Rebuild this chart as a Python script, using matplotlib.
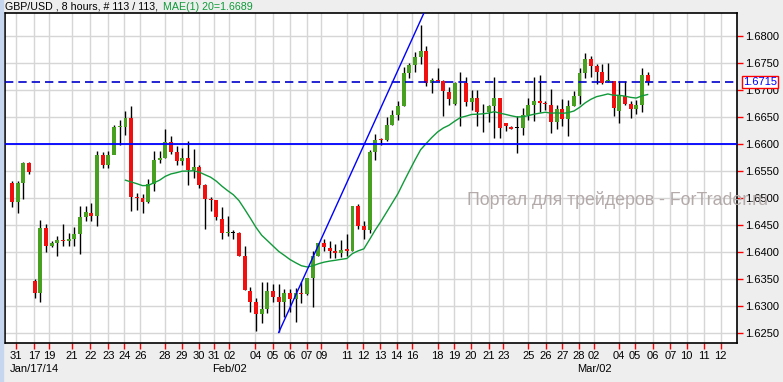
import numpy as np
import pandas as pd
import matplotlib
matplotlib.use('Agg')
import matplotlib.pyplot as plt
import matplotlib.transforms as mtransforms
from matplotlib.ticker import StrMethodFormatter

plt.rcParams['font.family'] = ['Liberation Sans', 'DejaVu Sans']

# GBP/USD 8h candles (113 bars)
opens = [1.6527, 1.6492, 1.6527, 1.6565, 1.6347, 1.6325, 1.6444, 1.6411, 1.6417, 1.6422,
         1.6420, 1.6424, 1.6433, 1.6465, 1.6473, 1.6467, 1.6580, 1.6562, 1.6580, 1.6631,
         1.6632, 1.6649, 1.6502, 1.6500, 1.6492, 1.6526, 1.6571, 1.6575, 1.6603, 1.6585,
         1.6568, 1.6575, 1.6551, 1.6557, 1.6524, 1.6499, 1.6496, 1.6462, 1.6435, 1.6436,
         1.6436, 1.6393, 1.6328, 1.6307, 1.6285, 1.6295, 1.6328, 1.6317, 1.6307, 1.6324,
         1.6313, 1.6325, 1.6322, 1.6351, 1.6393, 1.6416, 1.6408, 1.6402, 1.6399, 1.6405,
         1.6402, 1.6485, 1.6448, 1.6441, 1.6585, 1.6609, 1.6607, 1.6636, 1.6654, 1.6671,
         1.6731, 1.6746, 1.6762, 1.6772, 1.6713, 1.6719, 1.6716, 1.6697, 1.6675, 1.6713,
         1.6713, 1.6677, 1.6685, 1.6663, 1.6660, 1.6670, 1.6685, 1.6638, 1.6632, 1.6630,
         1.6630, 1.6654, 1.6673, 1.6680, 1.6675, 1.6673, 1.6640, 1.6665, 1.6647, 1.6671,
         1.6689, 1.6731, 1.6757, 1.6745, 1.6734, 1.6716, 1.6716, 1.6662, 1.6689, 1.6675,
         1.6665, 1.6673, 1.6728]
highs = [1.6532, 1.6532, 1.6567, 1.6566, 1.6350, 1.6459, 1.6451, 1.6420, 1.6430, 1.6451,
         1.6436, 1.6446, 1.6486, 1.6485, 1.6491, 1.6587, 1.6585, 1.6587, 1.6636, 1.6645,
         1.6662, 1.6670, 1.6510, 1.6507, 1.6536, 1.6587, 1.6587, 1.6627, 1.6614, 1.6596,
         1.6593, 1.6606, 1.6590, 1.6562, 1.6526, 1.6502, 1.6497, 1.6484, 1.6466, 1.6440,
         1.6437, 1.6411, 1.6336, 1.6314, 1.6345, 1.6345, 1.6341, 1.6341, 1.6331, 1.6331,
         1.6334, 1.6345, 1.6351, 1.6402, 1.6417, 1.6424, 1.6420, 1.6414, 1.6422, 1.6433,
         1.6486, 1.6488, 1.6457, 1.6588, 1.6619, 1.6611, 1.6650, 1.6663, 1.6679, 1.6742,
         1.6750, 1.6771, 1.6820, 1.6782, 1.6722, 1.6740, 1.6718, 1.6705, 1.6714, 1.6734,
         1.6725, 1.6700, 1.6700, 1.6675, 1.6673, 1.6725, 1.6686, 1.6639, 1.6633, 1.6651,
         1.6667, 1.6685, 1.6725, 1.6728, 1.6679, 1.6702, 1.6673, 1.6683, 1.6682, 1.6699,
         1.6740, 1.6768, 1.6763, 1.6748, 1.6748, 1.6750, 1.6717, 1.6716, 1.6716, 1.6679,
         1.6682, 1.6740, 1.6734]
lows = [1.6483, 1.6473, 1.6499, 1.6545, 1.6315, 1.6307, 1.6400, 1.6409, 1.6393, 1.6411,
        1.6411, 1.6411, 1.6397, 1.6457, 1.6457, 1.6448, 1.6555, 1.6555, 1.6598, 1.6599,
        1.6617, 1.6476, 1.6478, 1.6472, 1.6491, 1.6513, 1.6565, 1.6574, 1.6582, 1.6561,
        1.6562, 1.6525, 1.6537, 1.6518, 1.6442, 1.6476, 1.6459, 1.6425, 1.6430, 1.6424,
        1.6392, 1.6330, 1.6288, 1.6254, 1.6269, 1.6287, 1.6307, 1.6251, 1.6279, 1.6288,
        1.6271, 1.6306, 1.6321, 1.6298, 1.6392, 1.6402, 1.6388, 1.6388, 1.6390, 1.6392,
        1.6401, 1.6442, 1.6425, 1.6436, 1.6571, 1.6599, 1.6605, 1.6635, 1.6645, 1.6670,
        1.6722, 1.6734, 1.6748, 1.6708, 1.6695, 1.6716, 1.6652, 1.6673, 1.6673, 1.6634,
        1.6671, 1.6663, 1.6633, 1.6623, 1.6640, 1.6611, 1.6611, 1.6625, 1.6627, 1.6584,
        1.6617, 1.6644, 1.6642, 1.6660, 1.6663, 1.6620, 1.6627, 1.6633, 1.6614, 1.6670,
        1.6675, 1.6722, 1.6725, 1.6711, 1.6711, 1.6715, 1.6651, 1.6639, 1.6673, 1.6649,
        1.6656, 1.6660, 1.6710]
closes = [1.6492, 1.6527, 1.6565, 1.6548, 1.6325, 1.6444, 1.6411, 1.6417, 1.6422, 1.6420,
          1.6424, 1.6433, 1.6465, 1.6474, 1.6467, 1.6580, 1.6562, 1.6580, 1.6631, 1.6633,
          1.6649, 1.6502, 1.6500, 1.6492, 1.6526, 1.6571, 1.6575, 1.6603, 1.6585, 1.6568,
          1.6575, 1.6551, 1.6557, 1.6524, 1.6499, 1.6496, 1.6464, 1.6435, 1.6437, 1.6436,
          1.6393, 1.6330, 1.6308, 1.6285, 1.6295, 1.6328, 1.6317, 1.6307, 1.6324, 1.6313,
          1.6324, 1.6323, 1.6351, 1.6393, 1.6416, 1.6409, 1.6402, 1.6399, 1.6403, 1.6402,
          1.6485, 1.6449, 1.6441, 1.6585, 1.6608, 1.6607, 1.6636, 1.6654, 1.6671, 1.6731,
          1.6746, 1.6762, 1.6772, 1.6713, 1.6719, 1.6717, 1.6699, 1.6683, 1.6713, 1.6713,
          1.6677, 1.6685, 1.6659, 1.6663, 1.6670, 1.6685, 1.6630, 1.6633, 1.6628, 1.6630,
          1.6654, 1.6673, 1.6680, 1.6676, 1.6674, 1.6640, 1.6665, 1.6647, 1.6671, 1.6689,
          1.6731, 1.6757, 1.6745, 1.6734, 1.6713, 1.6718, 1.6667, 1.6689, 1.6674, 1.6665,
          1.6673, 1.6728, 1.6715]

# date ticks (bar position, label)
tick_pos = [0.7, 3.9, 6.6, 10.5, 13.8, 17.0, 19.8, 22.6, 26.9, 29.9, 32.9, 35.6, 38.3,
            42.9, 46.0, 48.9, 51.9, 54.5, 59.0, 61.9, 64.9, 67.8, 70.5, 75.0, 77.9, 80.9,
            84.0, 86.6, 91.0, 94.1, 97.0, 99.9, 102.6, 106.9, 109.8, 112.9, 116.0, 118.9,
            121.9, 124.9]
tick_labels = ['31', '17', '19', '21', '22', '23', '24', '26', '28', '29', '30', '31', '02',
               '04', '05', '06', '07', '09', '11', '12', '13', '14', '16', '18', '19', '20',
               '21', '23', '25', '26', '27', '28', '02', '04', '05', '06', '07', '10',
               '11', '12']
month_pos = [3.9, 38.3, 102.6]
month_labels = ['Jan/17/14', 'Feb/02', 'Mar/02']

ma_period = 20
hline_level = 1.6600
last_price = 1.6715
trend_pts = [(47, 1.6251), (72, 1.6829)]

df = pd.DataFrame({'open': opens, 'high': highs, 'low': lows, 'close': closes})
x = np.arange(len(df))
# MAE = exponential moving average
df['ma'] = df['close'].ewm(span=ma_period, adjust=True).mean()
df.loc[df.index < ma_period, 'ma'] = np.nan

fig = plt.figure(figsize=(7.83, 3.82), dpi=100, facecolor='#eeeeee')
ax = fig.add_axes([5 / 783, 39 / 382, 732 / 783, 330 / 382])
ax.set_facecolor('white')
# thin blue strip at the left edge
fig.patches.append(plt.Rectangle((0, 0), 3 / 783, 1, transform=fig.transFigure,
                                 color='#c6d6ee', zorder=0))

ax.set_xlim(-1.23, 127.75)
ax.set_ylim(1.62315, 1.68426)

# grid
ax.set_xticks(tick_pos)
ax.set_xticklabels(tick_labels)
ax.set_yticks(np.arange(1.625, 1.6801, 0.005))
ax.yaxis.tick_right()
ax.yaxis.set_major_formatter(StrMethodFormatter('{x:.4f}'))
ax.grid(True, color='#d6d6d6', lw=1)
ax.set_axisbelow(True)
ax.tick_params(axis='both', colors='red', labelcolor='black', labelsize=8, length=4, width=1)
ax.tick_params(axis='x', pad=2)
ax.tick_params(axis='y', pad=2)
for s in ax.spines.values():
    s.set_color('black')
    s.set_linewidth(1.2)

# month labels
trans = mtransforms.blended_transform_factory(ax.transData, ax.transAxes)
for p, lab in zip(month_pos, month_labels):
    ax.text(p, -26 / 330, lab, transform=trans, ha='center', va='center', fontsize=8)

# candles
diff = df['close'] - df['open']
colors = np.where(diff > 0, '#48a020', np.where(diff < 0, '#f01010', 'black'))
ax.vlines(x, df['low'], df['high'], color='black', lw=1, zorder=3)
min_h = 0.00015
small = diff.abs() < min_h
heights = np.where(small, min_h, diff)
bottoms = np.where(small, (df['open'] + df['close']) / 2 - min_h / 2, df['open'])
ax.bar(x, heights, bottom=bottoms, width=0.7, color=colors, lw=0, zorder=4)

# moving average
ax.plot(x, df['ma'], color='#109a3a', lw=1, zorder=5)

# lines
ax.axhline(hline_level, color='#0000ff', lw=1.3, zorder=6)
ax.axhline(last_price, color='#0000cc', lw=1.2, ls=(0, (5, 3)), zorder=6)
(x0, y0), (x1, y1) = trend_pts
slope = (y1 - y0) / (x1 - x0)
ax.plot([x0, x0 + 40], [y0, y0 + slope * 40], color='#0000ff', lw=1, zorder=6)

# last price box
ytrans = mtransforms.blended_transform_factory(ax.transAxes, ax.transData)
ax.text(1.0 + 6 / 732, last_price, f'{last_price:.4f}', transform=ytrans, ha='left',
        va='center', fontsize=8, color='#0000ff',
        bbox=dict(boxstyle='square,pad=0.12', fc='white', ec='red', lw=1), zorder=10,
        clip_on=False)

# watermark
fig.text(467 / 783, 1 - 200 / 382, 'Портал для трейдеров - ForTrader.ru', fontsize=12.8,
         color='#b4aaaa', ha='left', va='center')

# title
fig.text(5 / 783, 1 - 6.5 / 382, 'GBP/USD , 8 hours, # 113 / 113,', fontsize=7.7,
         color='black', ha='left', va='center')
fig.text(163 / 783, 1 - 6.5 / 382, 'MAE(1) 20=1.6689', fontsize=7.7,
         color='#109a3a', ha='left', va='center')

fig.savefig('out.png', dpi=100, facecolor=fig.get_facecolor())
